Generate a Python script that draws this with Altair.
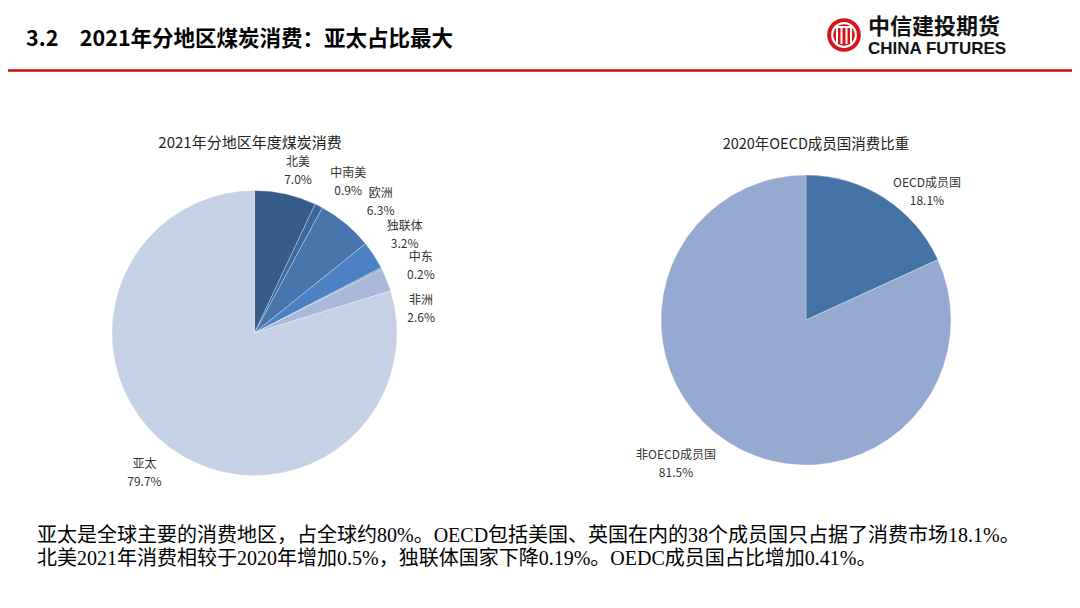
import altair as alt
import pandas as pd

# ---------------- data ----------------
LEFT_TITLE = "2021年分地区年度煤炭消费"
left_regions = ["北美", "中南美", "欧洲", "独联体", "中东", "非洲", "亚太"]
left_values = [7.0, 0.9, 6.3, 3.2, 0.2, 2.6, 79.7]
left_colors = ["#375c8a", "#3c66a0", "#4674ab", "#4b80c2", "#7b9bd0", "#aab9d9", "#c5d1e4"]

RIGHT_TITLE = "2020年OECD成员国消费比重"
right_groups = ["OECD成员国", "非OECD成员国"]
right_values = [18.1, 81.5]
right_colors = ["#4472a6", "#95a9d1"]

HEADER = "3.2\u2002\u20022021年分地区煤炭消费：亚太占比最大"
LOGO_CN = "中信建投期货"
LOGO_EN = "CHINA FUTURES"
NOTE_1 = "亚太是全球主要的消费地区，占全球约80%。OECD包括美国、英国在内的38个成员国只占据了消费市场18.1%。"
NOTE_2 = "北美2021年消费相较于2020年增加0.5%，独联体国家下降0.19%。OEDC成员国占比增加0.41%。"

# label nudges (style only)
left_nudge = {"北美": (6, -3), "中南美": (16, -7), "欧洲": (16, -8), "独联体": (6, -13),
              "中东": (13, 2), "非洲": (7, 31), "亚太": (-8, -7)}
right_nudge = {"OECD成员国": (28, 8), "非OECD成员国": (-37, -10)}

W, H = 1064, 592
CJK = "Noto Sans CJK SC"

left_df = pd.DataFrame({
    "region": left_regions,
    "value": left_values,
    "idx": list(range(len(left_regions))),
})
left_df["label"] = [f"{r}\n{v:.1f}%" for r, v in zip(left_regions, left_values)]
right_df = pd.DataFrame({
    "region": right_groups,
    "value": right_values,
    "idx": list(range(len(right_groups))),
})
right_df["label"] = [f"{r}\n{v:.1f}%" for r, v in zip(right_groups, right_values)]

LC = (246.5, 325)
RC = (798, 312)


def pie(df, names, colors, center, radius):
    total = float(df["value"].sum())
    arc = alt.Chart(df).mark_arc(radius=radius, stroke="#ffffff", strokeWidth=0.5, strokeOpacity=0.6).encode(
        theta=alt.Theta("value:Q", stack=True, scale=alt.Scale(domain=[0, total])),
        color=alt.Color("region:N", scale=alt.Scale(domain=names, range=colors), legend=None),
        order=alt.Order("idx:Q"),
        x=alt.value(center[0]),
        y=alt.value(center[1]),
    )
    return arc, total


def labels(df, total, center, nudges):
    layers = []
    for name, (dx, dy) in nudges.items():
        t = alt.Chart(df).transform_window(
            cum="sum(value)", sort=[alt.SortField("idx")], frame=[None, 0]
        ).transform_calculate(
            mid="datum.cum - datum.value / 2"
        ).transform_filter(
            alt.datum.region == name
        ).mark_text(
            radius=172, dx=dx, dy=dy, lineBreak="\n", align="center", baseline="middle",
            font=CJK, fontSize=12, lineHeight=18, color="#333333"
        ).encode(
            theta=alt.Theta("mid:Q", scale=alt.Scale(domain=[0, total])),
            text="label:N",
            x=alt.value(center[0]),
            y=alt.value(center[1]),
        )
        layers.append(t)
    return layers


larc, ltot = pie(left_df, left_regions, left_colors, LC, 142.5)
rarc, rtot = pie(right_df, right_groups, right_colors, RC, 145)
llab = labels(left_df, ltot, LC, left_nudge)
rlab = labels(right_df, rtot, RC, right_nudge)


def text_layer(s, x, y, **kw):
    return alt.Chart(pd.DataFrame({"t": [s]})).mark_text(**kw).encode(
        text="t:N", x=alt.value(x), y=alt.value(y)
    )


header = text_layer(HEADER, 18, 32, align="left", baseline="middle", font=CJK,
                    fontSize=21.5, fontWeight="bold", color="#000000")
red_line = alt.Chart(pd.DataFrame({"a": [0]})).mark_rule(color="#cc0a14", strokeWidth=2.5).encode(
    x=alt.value(-8), x2=alt.value(W + 8), y=alt.value(62.5)
)

# logo
logo_circle = alt.Chart(pd.DataFrame({"a": [0]})).mark_point(
    shape="circle", filled=True, size=1134, color="#d7141b", opacity=1
).encode(x=alt.value(836), y=alt.value(27))
logo_ring = alt.Chart(pd.DataFrame({"a": [0]})).mark_point(
    shape="circle", filled=False, size=560, color="#ffffff", strokeWidth=2.2, opacity=1
).encode(x=alt.value(836), y=alt.value(27))
logo_bars = alt.layer(*[
    alt.Chart(pd.DataFrame({"a": [0]})).mark_rule(color="#ffffff", strokeWidth=2).encode(
        x=alt.value(836 + off), y=alt.value(19), y2=alt.value(36)
    ) for off in (-7, -2.5, 2.5, 7)
])
logo_top = alt.Chart(pd.DataFrame({"a": [0]})).mark_rule(color="#ffffff", strokeWidth=2).encode(
    x=alt.value(829), x2=alt.value(843), y=alt.value(19)
)
logo_cn = text_layer(LOGO_CN, 860, 19, align="left", baseline="middle", font=CJK,
                     fontSize=22, fontWeight="bold", color="#111111")
logo_en = text_layer(LOGO_EN, 860, 41, align="left", baseline="middle", font="Liberation Sans",
                     fontSize=17, fontWeight="bold", color="#111111")

ltitle = text_layer(LEFT_TITLE, 242, 135, align="center", baseline="middle", font=CJK,
                    fontSize=15, color="#222222")
rtitle = text_layer(RIGHT_TITLE, 808, 137, align="center", baseline="middle", font=CJK,
                    fontSize=14.5, color="#222222")

note1 = text_layer(NOTE_1, 29, 528, align="left", baseline="middle",
                   font="Liberation Serif, Noto Sans CJK SC", fontSize=20, color="#000000")
note2 = text_layer(NOTE_2, 29, 551, align="left", baseline="middle",
                   font="Liberation Serif, Noto Sans CJK SC", fontSize=20, color="#000000")

chart = alt.layer(
    larc, rarc, *llab, *rlab,
    header, red_line, logo_circle, logo_ring, logo_bars, logo_top, logo_cn, logo_en,
    ltitle, rtitle, note1, note2,
).resolve_scale(theta="independent", color="independent").properties(
    width=W, height=H, padding=0, autosize=alt.AutoSizeParams(type="none")
).configure(background="#ffffff", view=alt.ViewConfig(stroke=None))

chart.save("out.html", embed_options={"renderer": "svg", "actions": False})
